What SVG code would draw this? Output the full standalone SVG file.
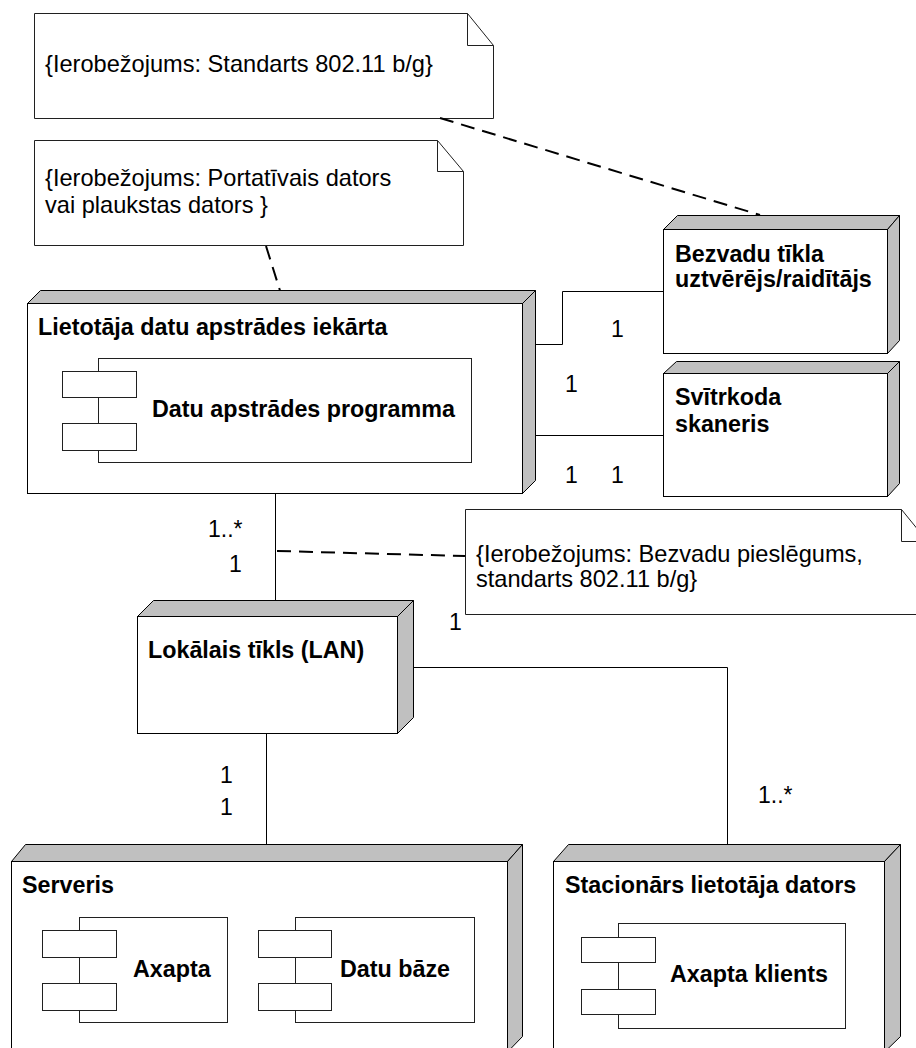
<svg xmlns="http://www.w3.org/2000/svg" width="916" height="1048" viewBox="0 0 916 1048">
  <style>
    text { font-family: "Liberation Sans", Arial, sans-serif; font-size: 23px; fill: #000; }
    .title { font-weight: bold; font-size: 23.3px; }
    .constraint { font-size: 23.6px; }
    .front { fill: #fff; stroke: #000; stroke-width: 1; }
    .side { fill: #c0c0c0; stroke: #000; stroke-width: 1; stroke-linejoin: miter; }
    .comp { fill: #fff; stroke: #202020; stroke-width: 1; }
    .note { fill: #fff; stroke: #202020; stroke-width: 1; }
    .fold { fill: none; stroke: #202020; stroke-width: 1; }
    .link { fill: none; stroke: #000; stroke-width: 1; }
    .dash { fill: none; stroke: #000; stroke-width: 2; stroke-dasharray: 14 8; }
  </style>

  <!-- constraint notes -->
  <g id="note-standard">
    <path class="note" d="M34.5,13.5 H467.5 L493.5,45.5 V118.5 H34.5 Z"/>
    <path class="fold" d="M467.5,13.5 V45.5 H493.5"/>
    <text class="constraint" x="45" y="72">{Ierobežojums: Standarts 802.11 b/g}</text>
  </g>

  <g id="note-device">
    <path class="note" d="M34.5,140.5 H437.5 L463.5,171.5 V245.5 H34.5 Z"/>
    <path class="fold" d="M437.5,140.5 V171.5 H463.5"/>
    <text class="constraint" x="45" y="186">{Ierobežojums: Portatīvais dators</text>
    <text class="constraint" x="45" y="213">vai plaukstas dators }</text>
  </g>

  <g id="note-wireless">
    <path class="note" d="M465.5,509.5 H901.5 L927.5,541.5 V614.5 H465.5 Z"/>
    <path class="fold" d="M901.5,509.5 V541.5 H927.5"/>
    <text class="constraint" x="476" y="562">{Ierobežojums: Bezvadu pieslēgums,</text>
    <text class="constraint" x="476" y="587">standarts 802.11 b/g}</text>
  </g>

  <!-- connectors -->
  <g id="connectors">
    <polyline class="link" points="532,344.5 562.5,344.5 562.5,291.5 663,291.5"/>
    <line class="link" x1="532" y1="435.5" x2="663" y2="435.5"/>
    <line class="link" x1="275.5" y1="493" x2="275.5" y2="608"/>
    <line class="link" x1="266.5" y1="733" x2="266.5" y2="852"/>
    <polyline class="link" points="403,667.5 727.5,667.5 727.5,852"/>
    <line class="dash" x1="440" y1="118" x2="760" y2="215"/>
    <line class="dash" x1="266" y1="246" x2="282" y2="297"/>
    <line class="dash" x1="277" y1="551" x2="465" y2="556"/>

    <text x="611" y="337">1</text>
    <text x="565" y="392">1</text>
    <text x="565" y="483">1</text>
    <text x="611" y="483">1</text>
    <text x="208" y="537">1..*</text>
    <text x="229" y="572">1</text>
    <text x="449" y="630">1</text>
    <text x="220" y="783">1</text>
    <text x="220" y="815">1</text>
    <text x="758" y="803">1..*</text>
  </g>

  <!-- nodes -->
  <g id="node-user-device">
    <polygon class="side" points="27.5,303.5 40.5,290.5 535.5,290.5 522.5,303.5"/>
    <polygon class="side" points="522.5,303.5 535.5,290.5 535.5,480.5 522.5,493.5"/>
    <rect class="front" x="27.5" y="303.5" width="495" height="190"/>
    <text class="title" x="38" y="335">Lietotāja datu apstrādes iekārta</text>
    <g id="comp-processing">
      <rect class="comp" x="98.5" y="358.5" width="373" height="104"/>
      <rect class="comp" x="62.5" y="371.5" width="74" height="26"/>
      <rect class="comp" x="62.5" y="423.5" width="74" height="27"/>
      <text class="title" x="152" y="417">Datu apstrādes programma</text>
    </g>
  </g>

  <g id="node-wireless">
    <polygon class="side" points="663.5,229.5 677.5,215.5 899.5,215.5 887.5,229.5"/>
    <polygon class="side" points="887.5,229.5 899.5,215.5 899.5,340.5 887.5,353.5"/>
    <rect class="front" x="663.5" y="229.5" width="224" height="124"/>
    <text class="title" x="675" y="262">Bezvadu tīkla</text>
    <text class="title" x="675" y="287">uztvērējs/raidītājs</text>
  </g>

  <g id="node-scanner">
    <polygon class="side" points="663.5,373.5 676.5,361.5 899.5,361.5 887.5,373.5"/>
    <polygon class="side" points="887.5,373.5 899.5,361.5 899.5,483.5 887.5,496.5"/>
    <rect class="front" x="663.5" y="373.5" width="224" height="123"/>
    <text class="title" x="675" y="405">Svītrkoda</text>
    <text class="title" x="675" y="432">skaneris</text>
  </g>

  <g id="node-lan">
    <polygon class="side" points="137.5,616.5 153.5,600.5 413.5,600.5 397.5,616.5"/>
    <polygon class="side" points="397.5,616.5 413.5,600.5 413.5,717.5 397.5,733.5"/>
    <rect class="front" x="137.5" y="616.5" width="260" height="117"/>
    <text class="title" x="148" y="658">Lokālais tīkls (LAN)</text>
  </g>

  <g id="node-server">
    <polygon class="side" points="11.5,861.5 25.5,844.5 522.5,844.5 507.5,861.5"/>
    <polygon class="side" points="507.5,861.5 522.5,844.5 522.5,1036.5 507.5,1052"/>
    <rect class="front" x="11.5" y="861.5" width="496" height="192"/>
    <text class="title" x="22" y="893">Serveris</text>
    <g id="comp-axapta">
      <rect class="comp" x="79.5" y="917.5" width="148" height="105"/>
      <rect class="comp" x="42.5" y="930.5" width="74" height="27"/>
      <rect class="comp" x="42.5" y="983.5" width="74" height="27"/>
      <text class="title" x="133" y="977">Axapta</text>
    </g>
    <g id="comp-database">
      <rect class="comp" x="295.5" y="917.5" width="179" height="105"/>
      <rect class="comp" x="258.5" y="930.5" width="73" height="27"/>
      <rect class="comp" x="258.5" y="983.5" width="73" height="27"/>
      <text class="title" x="340" y="977">Datu bāze</text>
    </g>
  </g>

  <g id="node-workstation">
    <polygon class="side" points="553.5,861.5 568.5,844.5 900.5,844.5 884.5,861.5"/>
    <polygon class="side" points="884.5,861.5 900.5,844.5 900.5,1036.5 884.5,1052"/>
    <rect class="front" x="553.5" y="861.5" width="331" height="192"/>
    <text class="title" x="565" y="893">Stacionārs lietotāja dators</text>
    <g id="comp-client">
      <rect class="comp" x="618.5" y="923.5" width="227" height="105"/>
      <rect class="comp" x="581.5" y="937.5" width="74" height="25"/>
      <rect class="comp" x="581.5" y="989.5" width="74" height="25"/>
      <text class="title" x="670" y="982">Axapta klients</text>
    </g>
  </g>
</svg>
